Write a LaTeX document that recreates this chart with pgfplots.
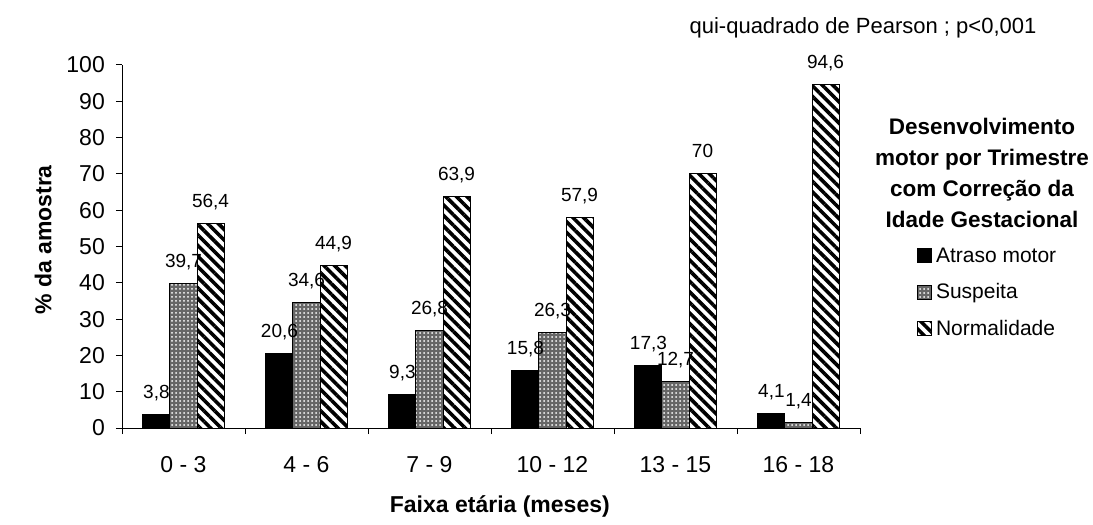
\documentclass[border=0pt]{standalone}
\usepackage{pgfplots}
\pgfplotsset{compat=1.18}
\usepackage{fontspec}
\setmainfont{Liberation Sans}
\usetikzlibrary{patterns.meta}

\begin{document}
\begin{tikzpicture}
\useasboundingbox (0,0) rectangle (1093bp,525bp);
\begin{axis}[
  at={(122bp,97bp)}, anchor=south west,
  scale only axis, width=738bp, height=363bp,
  xmin=-0.5, xmax=5.5, ymin=0, ymax=100,
  clip=false,
  axis lines*=left,
  axis line style={line width=1bp, -},
  ybar, bar width=0.22,
  ytick={0,10,...,100},
  xtick={-0.5,0.5,1.5,2.5,3.5,4.5,5.5},
  x tick label as interval,
  xticklabels={0 - 3, 4 - 6, 7 - 9, 10 - 12, 13 - 15, 16 - 18},
  tick align=outside,
  tick style={line width=1bp, black},
  major tick length=6bp,
  /pgf/number format/assume math mode=true,
  ticklabel style={font=\fontsize{23bp}{27bp}\selectfont},
  yticklabel style={inner sep=0pt, xshift=-11bp},
  xticklabel style={inner sep=0pt, yshift=-22bp},
  xlabel={Faixa etária (meses)},
  ylabel={\% da amostra},
  xlabel style={font=\bfseries\fontsize{23bp}{27bp}\selectfont, at={(axis description cs:0.512,-0.215)}, anchor=center},
  ylabel style={font=\bfseries\fontsize{23bp}{27bp}\selectfont, at={(axis description cs:-0.107,0.518)}, anchor=center},
  nodes near coords,
  every node near coord/.append style={font=\fontsize{19bp}{22bp}\selectfont, anchor=base, inner sep=0pt, yshift=16bp, /pgf/number format/use comma, /pgf/number format/assume math mode=true},
  legend style={at={(1.077,0.497)}, anchor=north west, draw=none, fill=none, font=\fontsize{21bp}{25bp}\selectfont, row sep=20bp, inner sep=0pt, nodes={inner sep=0pt}},
  legend cell align=left,
  legend image code/.code={\draw[#1, line width=1bp] (0bp,-7bp) rectangle (14bp,7bp); \path (18bp,0bp);},
]
\addplot[fill=black, draw=black, line width=1bp, bar shift=-0.22]
  coordinates {(0,3.8) (1,20.6) (2,9.3) (3,15.8) (4,17.3) (5,4.1)};
\addplot[preaction={fill=black!60}, pattern={Dots[distance=4bp, radius=1bp]}, pattern color=white, draw=black, line width=1bp, bar shift=0]
  coordinates {(0,39.7) (1,34.6) (2,26.8) (3,26.3) (4,12.7) (5,1.4)};
\addplot[pattern={Lines[angle=-45, distance=7.5bp, line width=3.6bp]}, pattern color=black, draw=black, line width=1bp, bar shift=0.22]
  coordinates {(0,56.4) (1,44.9) (2,63.9) (3,57.9) (4,70) (5,94.6)};
\legend{Atraso motor, Suspeita, Normalidade}
\end{axis}
\node[font=\bfseries\fontsize{22.5bp}{31bp}\selectfont, align=center] at (982bp,352bp) {Desenvolvimento\\motor por Trimestre\\com Correção da\\Idade Gestacional};
\node[font=\fontsize{22bp}{26bp}\selectfont] at (863bp,497bp) {qui-quadrado de Pearson ; p<0,001};
\end{tikzpicture}
\end{document}
